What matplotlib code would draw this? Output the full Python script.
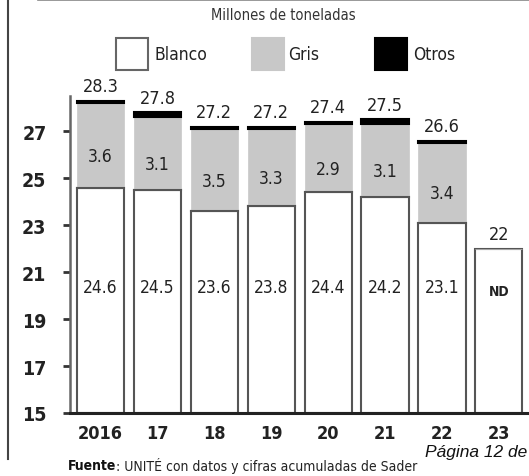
import matplotlib
matplotlib.use("Agg")
import matplotlib.pyplot as plt
from matplotlib.patches import Rectangle
from matplotlib.lines import Line2D

years = ["2016", "17", "18", "19", "20", "21", "22", "23"]
blanco = [24.6, 24.5, 23.6, 23.8, 24.4, 24.2, 23.1, 22.0]
gris = [3.6, 3.1, 3.5, 3.3, 2.9, 3.1, 3.4, 0.0]
otros = [0.1, 0.2, 0.1, 0.1, 0.1, 0.2, 0.1, 0.0]
totales = ["28.3", "27.8", "27.2", "27.2", "27.4", "27.5", "26.6", "22"]
blanco_labels = ["24.6", "24.5", "23.6", "23.8", "24.4", "24.2", "23.1", "ND"]
gris_labels = ["3.6", "3.1", "3.5", "3.3", "2.9", "3.1", "3.4", ""]
y_ticks = [15, 17, 19, 21, 23, 25, 27]
legend_names = ["Blanco", "Gris", "Otros"]

plt.rcParams["font.family"] = ["DejaVu Sans"]
plt.rcParams["font.stretch"] = "condensed"

BASE = 15
GRAY = "#c8c8c8"
EDGE = "#555555"
TEXT = "#222222"

fig = plt.figure(figsize=(5.29, 4.77), dpi=100)
ax = fig.add_axes([70 / 529, 1 - 414 / 477, 459 / 529, 317 / 477])

x = list(range(len(years)))
w = 0.83
white_h = [b - BASE for b in blanco]
ax.bar(x, white_h, w, bottom=BASE, color="white", edgecolor=EDGE, lw=1.5, zorder=2)
ax.bar(x, gris, w, bottom=blanco, color=GRAY, edgecolor=GRAY, lw=0.5, zorder=2)
top_gris = [b + g for b, g in zip(blanco, gris)]
for i in range(len(years)):
    if otros[i] > 0:
        ax.bar(x[i], otros[i], w, bottom=top_gris[i], color="black",
               edgecolor="black", lw=1.5, zorder=3)
    if gris[i] > 0:
        ax.plot([x[i] - w / 2, x[i] + w / 2], [blanco[i], blanco[i]],
                color=EDGE, lw=1.5, zorder=4)

for i in range(len(years)):
    top = top_gris[i] + otros[i]
    ax.annotate(totales[i], (x[i], top), xytext=(0, 4), textcoords="offset points",
                ha="center", va="bottom", fontsize=13, color=TEXT, annotation_clip=False)
    nd = blanco_labels[i] == "ND"
    ax.text(x[i], 20.2 if nd else 20.36, blanco_labels[i], ha="center", va="center",
            fontsize=10 if nd else 12.5, fontweight="bold" if nd else "normal",
            color=TEXT, zorder=5)
    if gris_labels[i]:
        ax.text(x[i], blanco[i] + gris[i] / 2 - 0.45, gris_labels[i], ha="center",
                va="center", fontsize=12.5, color=TEXT, zorder=5)

ax.set_xlim(-0.536, 7.53)
ax.set_ylim(BASE, 28.5)
ax.set_yticks(y_ticks)
ax.set_yticklabels([str(t) for t in y_ticks], fontsize=14, color=TEXT, fontweight="bold")
ax.set_xticks(x)
ax.set_xticklabels(years, fontsize=13, color=TEXT, fontweight="bold")
ax.tick_params(axis="y", length=5, width=2, color="#333333", pad=12)
ax.tick_params(axis="x", length=0, pad=8)
for s in ["top", "right"]:
    ax.spines[s].set_visible(False)
ax.spines["left"].set_color("#666666")
ax.spines["left"].set_linewidth(1.8)
ax.spines["bottom"].set_color("#222222")
ax.spines["bottom"].set_linewidth(2.2)

fig.text(283 / 529, 1 - 16 / 477, "Millones de toneladas", ha="center", va="center",
         fontsize=10.5, color="#333333")

# legend drawn by hand to match the original placement
box_x = [116, 252, 375]
text_x = [155, 288, 413]
box_style = [("white", "#666666"), (GRAY, GRAY), ("black", "black")]
for bx, tx, (fc, ec), name in zip(box_x, text_x, box_style, legend_names):
    fig.add_artist(Rectangle((bx / 529, 1 - 71 / 477), 32 / 529, 32 / 477,
                             transform=fig.transFigure, facecolor=fc, edgecolor=ec, lw=1.5))
    fig.text(tx / 529, 1 - 55 / 477, name, ha="left", va="center", fontsize=12.5, color=TEXT)

src = fig.text(68 / 529, 1 - 466 / 477, "Fuente", ha="left", va="center", fontsize=10,
               fontweight="bold", color="#111111")
ax.annotate(": UNITÉ con datos y cifras acumuladas de Sader", xy=(1, 0.5), xycoords=src,
            ha="left", va="center", fontsize=10, color=TEXT, annotation_clip=False)

fig.text(425 / 529, 1 - 453 / 477, "Página 12 de", ha="left", va="center", fontsize=12.5,
         style="italic", family=["Liberation Sans", "DejaVu Sans"], stretch="normal",
         color="#111111")

fig.add_artist(Line2D([8 / 529, 8 / 529], [1 - 460 / 477, 1.0], transform=fig.transFigure,
                      color="#444444", lw=1.5))
fig.add_artist(Line2D([38 / 529, 1.0], [1 - 1 / 477, 1 - 1 / 477], transform=fig.transFigure,
                      color="#888888", lw=1.2))

fig.savefig("out.png", dpi=100)
